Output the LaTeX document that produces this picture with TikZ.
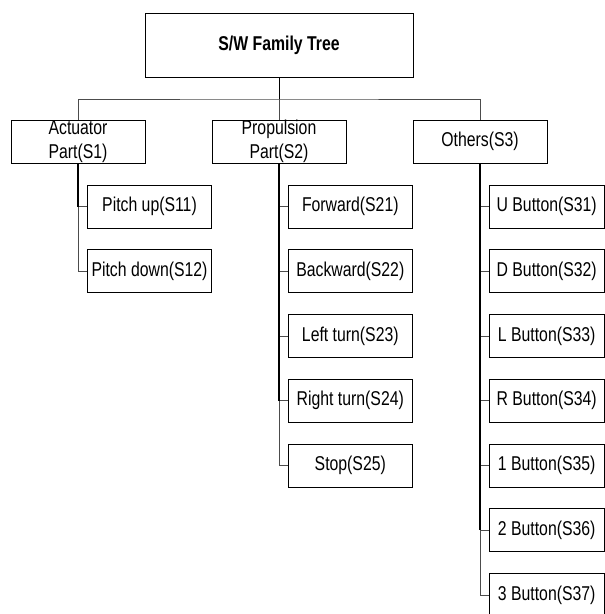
\documentclass[tikz,border=0pt]{standalone}
\usepackage{fontspec}
\setmainfont{Liberation Sans}[FakeStretch=0.79]
\begin{document}
\begin{tikzpicture}[x=1pt,y=-1pt,
  box/.style={draw=black, line width=0.8pt, fill=white, inner sep=0pt, align=center,
    minimum height=43pt, font=\fontsize{20}{24}\selectfont},
  conn/.style={line width=0.6pt, draw=black!70},
  trunk/.style={line width=2pt, draw=black}]
\useasboundingbox (0,0) rectangle (605,614);
% root
\node[box, minimum width=268pt, minimum height=64pt, font=\fontsize{20}{24}\selectfont\bfseries] (root) at (279,45) {S/W Family Tree};
% level 1
\node[box, minimum width=134pt] (a) at (78,141.5) {Actuator\\Part(S1)};
\node[box, minimum width=134pt] (p) at (279,141.5) {Propulsion\\Part(S2)};
\node[box, minimum width=134pt] (o) at (480,141.5) {Others(S3)};
% actuator children
\node[box, minimum width=124.5pt] (a1) at (149.5,206.5) {Pitch up(S11)};
\node[box, minimum width=124.5pt] (a2) at (149.5,271.25) {Pitch down(S12)};
% propulsion children
\node[box, minimum width=124.5pt] (p1) at (350.3,206.5) {Forward(S21)};
\node[box, minimum width=124.5pt] (p2) at (350.3,271.25) {Backward(S22)};
\node[box, minimum width=124.5pt] (p3) at (350.3,336) {Left turn(S23)};
\node[box, minimum width=124.5pt] (p4) at (350.3,400.75) {Right turn(S24)};
\node[box, minimum width=124.5pt] (p5) at (350.3,465.5) {Stop(S25)};
% others children
\node[box, minimum width=114.7pt] (o1) at (546.7,206.5) {U Button(S31)};
\node[box, minimum width=114.7pt] (o2) at (546.7,271.25) {D Button(S32)};
\node[box, minimum width=114.7pt] (o3) at (546.7,336) {L Button(S33)};
\node[box, minimum width=114.7pt] (o4) at (546.7,400.75) {R Button(S34)};
\node[box, minimum width=114.7pt] (o5) at (546.7,465.5) {1 Button(S35)};
\node[box, minimum width=114.7pt] (o6) at (546.7,530.25) {2 Button(S36)};
\node[box, minimum width=114.7pt] (o7) at (546.7,595) {3 Button(S37)};
% bus
\coordinate (bus) at (279,99);
\draw[line width=0.8pt, draw=black] (root.south) -- (bus);
\draw[conn] (a.north) |- (bus) -| (o.north);
\draw[conn] (bus) -- (p.north);
% children connectors
\foreach \c in {a1,a2} \draw[conn] (a.south) |- (\c.west);
\foreach \c in {p1,p2,p3,p4,p5} \draw[conn] (p.south) |- (\c.west);
\foreach \c in {o1,o2,o3,o4,o5,o6,o7} \draw[conn] (o.south) |- (\c.west);
\draw[trunk] (a.south) -- (a.south |- a1.west);
\draw[trunk] (p.south) -- (p.south |- p4.west);
\draw[trunk] (o.south) -- (o.south |- o6.west);
\end{tikzpicture}
\end{document}
